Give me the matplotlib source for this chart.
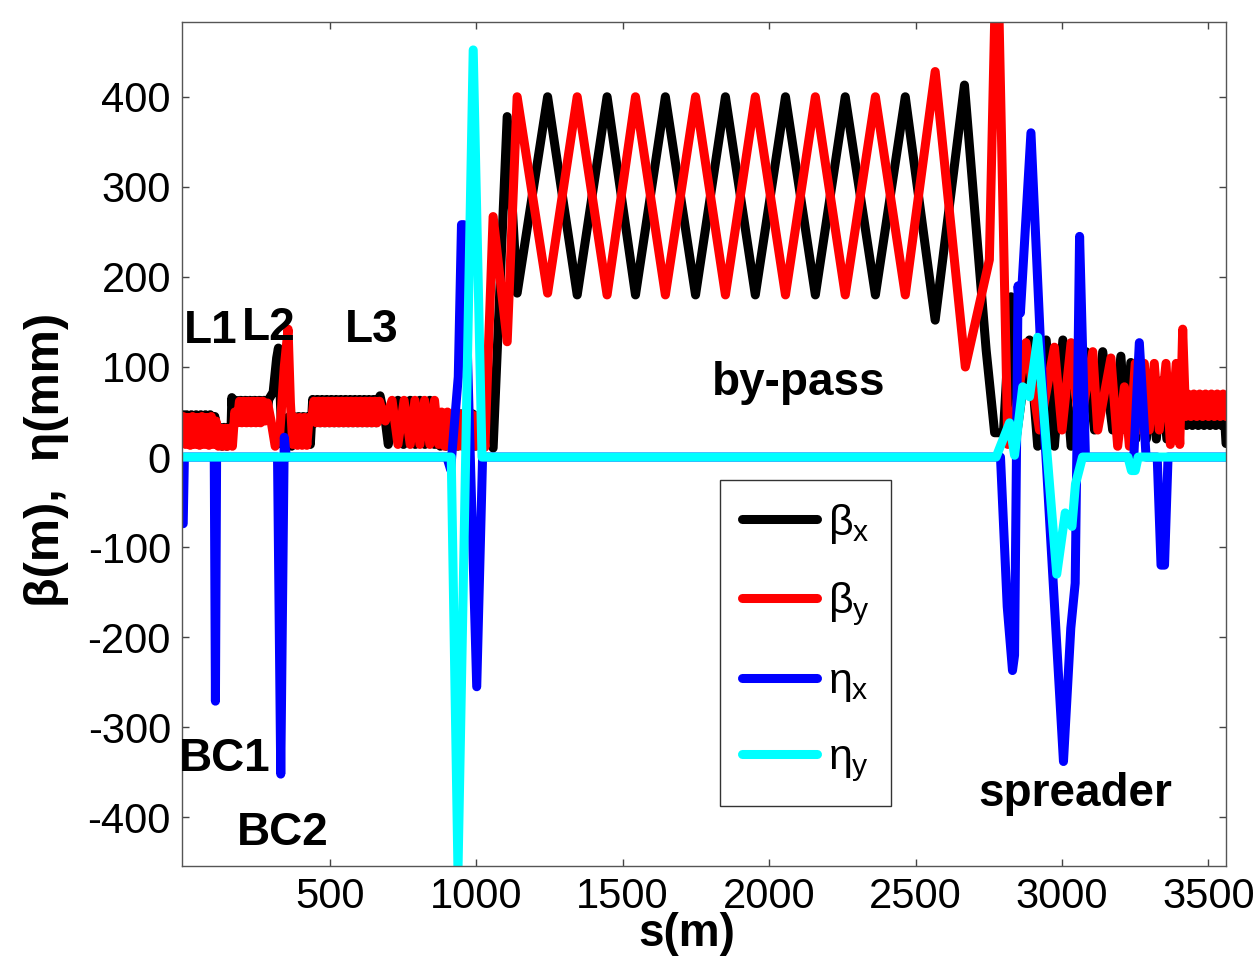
import matplotlib
matplotlib.use("Agg")
import matplotlib.pyplot as plt

plt.rcParams['font.family'] = ['Liberation Sans', 'DejaVu Sans']
plt.rcParams['mathtext.fontset'] = 'custom'
plt.rcParams['mathtext.rm'] = 'Liberation Sans'
plt.rcParams['mathtext.it'] = 'Liberation Sans'
plt.rcParams['axes.unicode_minus'] = False

# ---------------- data (s in m, beta in m, eta in mm) ----------------
betax_pts = [
    (0, 47), (4, 16), (12, 47), (20, 16), (28, 47), (36, 16), (44, 47), (52, 16), (60, 47), (68, 16),
    (76, 47), (84, 16), (92, 47), (100, 16), (108, 45), (116, 14),
    (124, 33), (132, 12), (140, 33), (148, 12), (156, 33), (162, 14), (166, 66), (172, 40),
    (180, 63), (188, 40), (196, 63), (204, 40), (212, 63), (220, 40), (228, 63), (236, 40), (244, 63),
    (252, 40), (260, 63), (268, 40), (276, 63), (284, 42), (292, 64),
    (307, 72), (319, 110), (325, 121), (332, 60), (338, 14), (350, 14), (362, 45), (370, 12),
    (378, 45), (386, 14), (394, 45), (402, 14), (410, 45), (418, 14), (426, 45), (434, 14),
    (442, 64), (450, 38), (458, 64), (466, 38), (474, 64), (482, 38), (490, 64), (498, 38), (506, 64),
    (514, 38), (522, 64), (530, 38), (538, 64), (546, 38), (554, 64), (562, 38), (570, 64), (578, 38),
    (586, 64), (594, 38), (602, 64), (610, 38), (618, 64), (626, 38), (634, 64), (642, 38), (650, 64),
    (658, 38), (664, 60), (672, 68),
    (690, 40), (700, 14), (733, 63), (752, 14), (775, 63), (792, 14), (808, 63), (825, 14), (842, 63),
    (858, 14), (868, 48), (878, 12), (888, 48), (898, 12), (908, 48), (918, 12), (928, 48), (938, 12),
    (948, 48), (958, 12), (968, 48), (978, 12), (988, 48), (998, 12), (1008, 46), (1018, 12),
    (1035, 110), (1058, 10),
    (1106, 378), (1140, 182), (1244, 400), (1345, 180), (1447, 400), (1544, 180), (1646, 400),
    (1749, 180), (1851, 400), (1953, 180), (2056, 400), (2158, 180), (2260, 400), (2363, 180),
    (2465, 400), (2567, 152), (2667, 413), (2741, 119), (2770, 27), (2800, 27), (2826, 178), (2838, 8),
    (2889, 130), (2917, 12), (2946, 130), (2974, 12), (3003, 130), (3031, 12), (3082, 117), (3111, 30),
    (3139, 117), (3173, 30), (3201, 112), (3218, 30), (3235, 105), (3252, 20), (3270, 95), (3288, 20),
    (3305, 90), (3322, 20), (3340, 85), (3358, 20), (3375, 80), (3392, 20), (3410, 75), (3425, 35),
    (3435, 68), (3445, 35), (3455, 68), (3465, 35), (3475, 68), (3485, 35), (3495, 68), (3505, 35),
    (3515, 68), (3525, 35), (3535, 68), (3545, 35), (3552, 60), (3560, 15),
]

betay_pts = [
    (0, 45), (8, 14), (16, 44), (24, 13), (32, 45), (40, 14), (48, 44), (56, 13), (64, 45), (72, 14),
    (80, 44), (88, 13), (96, 45), (104, 14), (112, 40),
    (120, 12), (128, 32), (136, 12), (144, 32), (152, 12), (160, 32), (168, 12), (176, 50), (184, 38),
    (192, 62), (200, 38), (208, 62), (216, 38), (224, 62), (232, 38), (240, 62), (248, 38), (256, 62),
    (264, 38), (272, 62), (280, 40), (288, 60),
    (300, 40), (314, 12), (330, 28), (345, 100), (358, 142), (366, 60), (374, 14),
    (382, 44), (390, 13), (398, 44), (406, 13), (414, 44), (422, 13), (430, 44), (438, 40),
    (446, 62), (454, 38), (462, 62), (470, 38), (478, 62), (486, 38), (494, 62), (502, 38), (510, 62),
    (518, 38), (526, 62), (534, 38), (542, 62), (550, 38), (558, 62), (566, 38), (574, 62), (582, 38),
    (590, 62), (598, 38), (606, 62), (614, 38), (622, 62), (630, 38), (638, 62), (646, 38), (654, 62),
    (662, 38), (670, 62),
    (690, 40), (713, 63), (733, 14), (754, 63), (775, 14), (791, 63), (808, 14), (824, 63), (842, 14),
    (858, 63), (872, 14), (882, 50), (892, 12), (902, 50), (912, 12), (922, 48), (932, 12), (942, 48),
    (952, 12), (962, 48), (972, 12), (982, 48), (992, 12), (1002, 46), (1012, 12), (1022, 40), (1030, 11),
    (1058, 267), (1106, 128), (1140, 400), (1244, 182), (1345, 400), (1447, 180), (1544, 400),
    (1646, 180), (1749, 400), (1851, 180), (1953, 400), (2056, 180), (2158, 400), (2260, 180),
    (2363, 400), (2465, 180), (2567, 428), (2670, 100), (2752, 219), (2778, 600), (2815, 14),
    (2832, 30), (2877, 127), (2923, 30), (2974, 122), (3000, 30), (3031, 127), (3059, 30), (3105, 117),
    (3122, 30), (3167, 110), (3190, 12), (3213, 78), (3230, 12), (3250, 104), (3265, 30), (3281, 104),
    (3298, 30), (3315, 104), (3332, 30), (3355, 104), (3370, 14), (3390, 104), (3402, 14), (3412, 142),
    (3422, 45), (3430, 70), (3440, 45), (3450, 70), (3460, 45), (3470, 70), (3480, 45), (3490, 70),
    (3500, 45), (3510, 70), (3520, 45), (3530, 70), (3540, 45), (3550, 70), (3560, 45),
]

etax_pts = [
    (0, -74), (4, 0), (106, 0), (110, -271), (114, 0), (322, 0), (333, -352), (345, 22), (352, 0),
    (900, 0), (913, -14), (939, 89), (950, 258), (958, 258), (1002, -255), (1022, 0),
    (2790, 0), (2813, -166), (2831, -237), (2838, -220), (2850, 190), (2858, 160), (2894, 360),
    (2940, 30), (3005, -338), (3030, -190), (3045, -140), (3060, 245), (3080, 0),
    (3245, 0), (3264, 127), (3287, 0), (3325, 0), (3338, -120), (3350, -120), (3362, 0), (3560, 0),
]

etay_pts = [
    (0, 0), (915, 0), (938, -460), (990, 452), (1020, 0), (2775, 0), (2821, 38), (2838, 2),
    (2866, 78), (2889, 67), (2917, 133), (2982, -130), (3011, -62), (3034, -77), (3046, -30),
    (3070, 0), (3225, 0), (3237, -15), (3250, -15), (3260, 0), (3560, 0),
]

series_labels = [r'$\beta_{\rm x}$', r'$\beta_{\rm y}$', r'$\eta_{\rm x}$', r'$\eta_{\rm y}$']
series_colors = ['#000000', '#ff0000', '#0000ff', '#00ffff']

xticks = [500, 1000, 1500, 2000, 2500, 3000, 3500]
yticks = [-400, -300, -200, -100, 0, 100, 200, 300, 400]

annotations = [
    ('L1', 95, 127), ('L2', 293, 130), ('L3', 645, 128), ('by-pass', 2101, 69),
    ('BC1', 140, -348), ('BC2', 341, -431), ('spreader', 3046, -387),
]

# ---------------- plot ----------------
fig = plt.figure(figsize=(12.58, 9.65), dpi=100)
ax = fig.add_axes([0.1447, 0.1026, 0.8299, 0.8746])

for pts, lab, col in zip([betax_pts, betay_pts, etax_pts, etay_pts], series_labels, series_colors):
    s = [p[0] for p in pts]
    v = [p[1] for p in pts]
    ax.plot(s, v, color=col, lw=6.5, label=lab, solid_capstyle='round', solid_joinstyle='round')

ax.set_xlim(-4, 3560)
ax.set_ylim(-454, 483)
ax.set_xticks(xticks)
ax.set_yticks(yticks)
ax.tick_params(direction='in', length=5, width=1, color='#444444', labelsize=30,
               top=True, right=True, pad=8)
for sp in ax.spines.values():
    sp.set_color('#555555')
    sp.set_linewidth(1)

for txt, xs, yv in annotations:
    ax.text(xs, yv, txt, fontsize=33, fontweight='bold', ha='center', va='baseline')

ax.set_xlabel('s(m)', fontsize=33, fontweight='bold')
ax.xaxis.set_label_coords(0.483, -0.054)
ax.set_ylabel('β(m),  η(mm)', fontsize=35, fontweight='bold')
ax.yaxis.set_label_coords(-0.108, 0.481)

leg = ax.legend(loc='upper left', bbox_to_anchor=(720 / 1258, 1 - 480 / 965),
                bbox_transform=fig.transFigure, borderaxespad=0, fontsize=31,
                handlelength=1.75, handletextpad=0.25, labelspacing=0.8, borderpad=0.5,
                fancybox=False, framealpha=1, edgecolor='#333333')
leg.get_frame().set_linewidth(1)

fig.savefig('out.png', dpi=100)
